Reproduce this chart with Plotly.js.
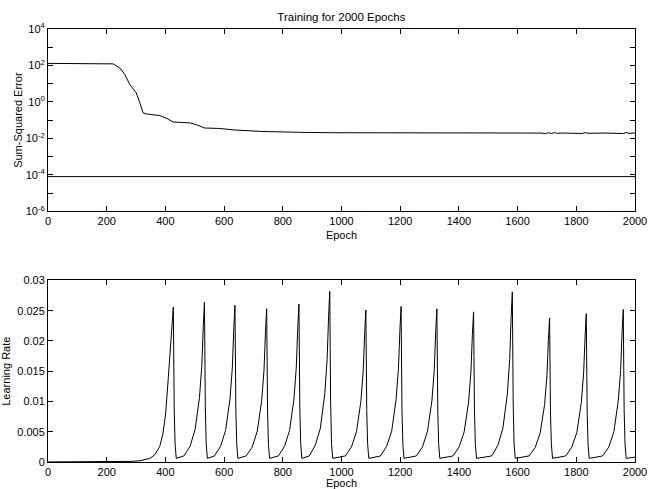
<!DOCTYPE html>
<html>
<head>
<meta charset="utf-8">
<script src="https://cdn.plot.ly/plotly-3.0.1.min.js"></script>
<style>html,body{margin:0;padding:0;background:#fff;}#chart{width:649px;height:489px;}</style>
</head>
<body>
<div id="chart"></div>
<script>
// Sum-squared error vs epoch
const sseEpoch = [0, 200, 222, 245, 262, 279, 290, 301, 313, 324, 335, 381, 409, 426, 483, 506, 534, 585, 634, 726, 863, 966, 1680, 1695, 1705, 1715, 1725, 1735, 1760, 1810, 1820, 1830, 1840, 1900, 1950, 1960, 1970, 1980, 2000];
const sseValue = [130, 130, 122, 72, 31, 8.9, 5.1, 3.1, 0.87, 0.25, 0.22, 0.178, 0.117, 0.079, 0.071, 0.056, 0.037, 0.035, 0.029, 0.024, 0.0214, 0.0204, 0.0196, 0.0182, 0.0206, 0.0185, 0.0205, 0.019, 0.0196, 0.0196, 0.0185, 0.0206, 0.019, 0.0196, 0.0196, 0.0184, 0.021, 0.019, 0.0196];
// Performance goal line
const goalEpoch = [0, 2000];
const goalValue = [8e-5, 8e-5];

// Learning rate vs epoch
const lrEpoch = [0, 250, 284, 313, 347, 364, 381, 392, 401, 410, 418, 423, 427,
  430, 433, 437, 463, 484, 501, 516, 524, 529, 533,
  536, 539, 543, 567, 588, 605, 620, 628, 633, 637,
  640, 643, 647, 675, 696, 713, 728, 736, 741, 745,
  748, 751, 755, 785, 806, 823, 838, 846, 851, 855,
  858, 861, 865, 890, 911, 928, 943, 951, 956, 960,
  963, 966, 970, 1013, 1034, 1051, 1066, 1074, 1079, 1083,
  1086, 1089, 1093, 1133, 1154, 1171, 1186, 1194, 1199, 1203,
  1206, 1209, 1213, 1255, 1276, 1293, 1308, 1316, 1321, 1325,
  1328, 1331, 1335, 1380, 1401, 1418, 1433, 1441, 1446, 1450,
  1453, 1456, 1460, 1512, 1533, 1550, 1565, 1573, 1578, 1582,
  1585, 1588, 1592, 1639, 1660, 1677, 1692, 1700, 1705, 1709,
  1712, 1715, 1719, 1764, 1785, 1802, 1817, 1825, 1830, 1834,
  1837, 1840, 1844, 1890, 1911, 1928, 1943, 1951, 1956, 1960,
  1963, 1966, 1970, 2000];
const lrValue = [0.00001, 0.00003, 0.0001, 0.0002, 0.0006, 0.0012, 0.0026, 0.0048, 0.0081, 0.014, 0.0195, 0.0225, 0.0256,
  0.0087, 0.003, 0.0006, 0.001, 0.0026, 0.0053, 0.0106, 0.0158, 0.0224, 0.0264,
  0.009, 0.003, 0.0006, 0.001, 0.0026, 0.0052, 0.0104, 0.0155, 0.022, 0.0259,
  0.0088, 0.003, 0.0006, 0.001, 0.0025, 0.0051, 0.0101, 0.0152, 0.0215, 0.0253,
  0.0086, 0.003, 0.0006, 0.001, 0.0026, 0.0052, 0.0104, 0.0157, 0.0222, 0.0261,
  0.0089, 0.003, 0.0006, 0.001, 0.0028, 0.0056, 0.0113, 0.0169, 0.024, 0.0282,
  0.0096, 0.003, 0.0006, 0.001, 0.0025, 0.005, 0.01, 0.0151, 0.0213, 0.0251,
  0.0085, 0.003, 0.0006, 0.001, 0.0026, 0.0051, 0.0103, 0.0154, 0.0218, 0.0257,
  0.0087, 0.003, 0.0006, 0.001, 0.0025, 0.0051, 0.0101, 0.0152, 0.0215, 0.0253,
  0.0086, 0.003, 0.0006, 0.001, 0.0025, 0.005, 0.0099, 0.0149, 0.0211, 0.0248,
  0.0084, 0.003, 0.0006, 0.001, 0.0028, 0.0056, 0.0112, 0.0169, 0.0239, 0.0281,
  0.0096, 0.003, 0.0006, 0.001, 0.0024, 0.0048, 0.0095, 0.0143, 0.0202, 0.0238,
  0.0081, 0.003, 0.0006, 0.001, 0.0025, 0.0049, 0.0098, 0.0147, 0.0208, 0.0245,
  0.0083, 0.003, 0.0006, 0.001, 0.0025, 0.005, 0.0101, 0.0151, 0.0214, 0.0252,
  0.0086, 0.003, 0.0006, 0.0008];

// Tick labels
const epochTicks = [0, 200, 400, 600, 800, 1000, 1200, 1400, 1600, 1800, 2000];
const sseTickVals = [1e-6, 1e-4, 1e-2, 1, 100, 1e4];
const sseTickText = ['10<sup>-6</sup>', '10<sup>-4</sup>', '10<sup>-2</sup>', '10<sup>0</sup>', '10<sup>2</sup>', '10<sup>4</sup>'];
const sseMinorVals = [1e-5, 1e-3, 1e-1, 10, 1000];
const lrTickVals = [0, 0.005, 0.01, 0.015, 0.02, 0.025, 0.03];
const lrTickText = ['0', '0.005', '0.01', '0.015', '0.02', '0.025', '0.03'];

const FONT = 'Liberation Sans, Arial, Helvetica, sans-serif';
const lineStyle = {color: '#000', width: 1};

const traces = [
  {x: sseEpoch, y: sseValue, type: 'scatter', mode: 'lines', line: lineStyle, xaxis: 'x', yaxis: 'y', hoverinfo: 'skip'},
  {x: goalEpoch, y: goalValue, type: 'scatter', mode: 'lines', line: lineStyle, xaxis: 'x', yaxis: 'y', hoverinfo: 'skip'},
  {x: lrEpoch, y: lrValue, type: 'scatter', mode: 'lines', line: lineStyle, xaxis: 'x2', yaxis: 'y2', hoverinfo: 'skip'}
];

const axisCommon = {
  showline: true, linecolor: '#000', linewidth: 1, mirror: 'allticks',
  ticks: 'inside', ticklen: 5, tickwidth: 1, tickcolor: '#000',
  showgrid: false, zeroline: false,
  tickfont: {family: FONT, size: 11, color: '#000'}
};

const layout = {
  width: 649, height: 489,
  margin: {l: 48, r: 14, t: 29, b: 27},
  paper_bgcolor: '#fff', plot_bgcolor: '#fff',
  showlegend: false,
  font: {family: FONT, size: 11, color: '#000'},
  title: {text: 'Training for 2000 Epochs', font: {family: FONT, size: 11.5, color: '#000'},
          x: 0.526, xanchor: 'center', y: 1 - 17/489, yref: 'container', yanchor: 'middle'},
  xaxis: Object.assign({}, axisCommon, {
    domain: [0, 1], anchor: 'y', range: [0, 2000], tickvals: epochTicks,
    title: {text: 'Epoch', font: {family: FONT, size: 11}, standoff: 4}
  }),
  yaxis: Object.assign({}, axisCommon, {
    domain: [0.579, 1], anchor: 'x', type: 'log', range: [-6, 4],
    tickvals: sseTickVals, ticktext: sseTickText,
    minor: {tickmode: 'array', tickvals: sseMinorVals, ticks: 'inside', ticklen: 5, tickwidth: 1, tickcolor: '#000', showgrid: false},
    title: {text: 'Sum-Squared Error', font: {family: FONT, size: 11}, standoff: 0}
  }),
  xaxis2: Object.assign({}, axisCommon, {
    domain: [0, 1], anchor: 'y2', range: [0, 2000], tickvals: epochTicks,
    title: {text: 'Epoch', font: {family: FONT, size: 11}, standoff: 0}
  }),
  yaxis2: Object.assign({}, axisCommon, {
    domain: [0, 0.4194], anchor: 'x2', range: [0, 0.03],
    tickvals: lrTickVals, ticktext: lrTickText,
    title: {text: 'Learning Rate', font: {family: FONT, size: 11}, standoff: 4}
  })
};

Plotly.newPlot('chart', traces, layout, {displayModeBar: false, staticPlot: true});
</script>
</body>
</html>
